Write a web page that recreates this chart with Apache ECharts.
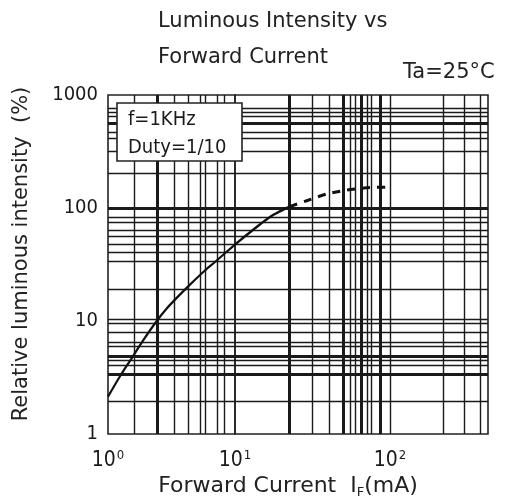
<!DOCTYPE html>
<html>
<head>
<meta charset="utf-8">
<script src="https://cdn.jsdelivr.net/npm/echarts@6/dist/echarts.min.js"></script>
<style>html,body{margin:0;padding:0;background:#fff;}#c{width:506px;height:504px;}</style>
</head>
<body>
<div id="c"></div>
<script>
// ---- data ----
// solid curve, first decade (I_F in mA, relative intensity in %)
const curveCurrentA   = [1.0, 1.24, 1.54, 1.92, 2.42, 2.9, 3.49, 4.42, 5.8, 6.96, 8.73, 10];
const curveIntensityA = [2.14, 3.23, 4.7, 6.9, 10.0, 12.9, 16.1, 21.0, 28.0, 33.3, 41.6, 47.5];
// solid curve, second decade
const curveCurrentB   = [10, 11.3, 13.8, 17.7, 22.5];
const curveIntensityB = [47.5, 54.5, 68, 87, 103];
// dashed continuation
const dashCurrent   = [22.5, 29, 39.1, 52.6, 74.3, 98.5];
const dashIntensity = [103, 116, 133, 144, 152, 153];

// grid lines of the printed log paper
const vLinesA  = [1.62, 2.44, 3.35, 4.27, 5.37, 5.88, 7.26, 8.3];
const vThickA  = [2.44];
const vLinesB  = [22.4, 31.5, 40.6, 50, 55.2, 59.4, 65.7, 71.4, 76.2, 86.2, 100, 220, 300, 381];
const vThickB  = [22.4, 50, 65.7, 86.2];
const hLines   = [1.96, 3.4, 4.08, 4.45, 4.9, 5.95, 6.52, 8.0, 9.55, 10.4, 19.1, 33.5, 40.2, 48, 56.5, 63.9, 74.1, 82, 100, 203, 315, 414, 464, 562, 643, 707, 763];
const hThick   = [3.4, 4.9, 100, 562];

// tick labels
const xTickValues    = [1, 10, 100];
const xTickExponents = ['0', '1', '2'];
const yTickValues    = [1, 10, 100, 1000];
const yTickLabels    = ['1', '10', '100', '1000'];

// texts
const titleLine1 = 'Luminous Intensity vs';
const titleLine2 = 'Forward Current';
const tempLabel  = 'Ta=25°C';
const condLine1  = 'f=1KHz';
const condLine2  = 'Duty=1/10';
const yName      = 'Relative luminous intensity  (%)';

// ---- chart ----
const NARROW = '"Liberation Sans Narrow", "DejaVu Sans Condensed", "Liberation Sans", sans-serif';
const SANS = '"DejaVu Sans", "Liberation Sans", sans-serif';
const INK = '#1a1a1a';

function pairs(xs, ys) { return xs.map((x, i) => [x, ys[i]]); }
function vItems(vals, thick) {
  return vals.map(v => ({ xAxis: v, lineStyle: { width: thick.includes(v) ? 3 : 1.4, color: INK, type: 'solid' } }));
}
function hItems(vals, thick) {
  return vals.map(v => ({ yAxis: v, lineStyle: { width: thick.includes(v) ? 3 : 1.4, color: INK, type: 'solid' } }));
}
function gridMarks(vals, thick, hv) {
  return {
    silent: true, symbol: 'none', animation: false,
    label: { show: false }, emphasis: { disabled: true },
    data: hv === 'v' ? vItems(vals, thick) : hItems(vals, thick)
  };
}
function xLabel(v) {
  const i = xTickValues.findIndex(t => Math.abs(t - v) < 1e-6 * t);
  return i < 0 ? '' : '{b|10}{s|' + xTickExponents[i] + '}';
}
const xRich = {
  b: { fontSize: 21, fontFamily: NARROW, color: INK, lineHeight: 24 },
  s: { fontSize: 13, fontFamily: NARROW, color: INK, verticalAlign: 'top', lineHeight: 24, padding: [0, 0, 0, 1] }
};

const chart = echarts.init(document.getElementById('c'), null, { renderer: 'canvas' });
chart.setOption({
  backgroundColor: '#fff',
  animation: false,
  grid: [
    { left: 108, top: 95, width: 127, height: 339, show: true, borderColor: '#222', borderWidth: 1.6, outerBoundsMode: 'none' },
    { left: 235, top: 95, width: 253, height: 339, show: true, borderColor: '#222', borderWidth: 1.6, outerBoundsMode: 'none' }
  ],
  xAxis: [
    { type: 'log', gridIndex: 0, min: 1, max: 10, logBase: 10,
      axisLine: { show: false }, axisTick: { show: false }, splitLine: { show: false },
      axisLabel: { show: true, margin: 15, showMinLabel: true, showMaxLabel: true, formatter: xLabel, rich: xRich } },
    { type: 'log', gridIndex: 1, min: 10, max: 429, logBase: 10,
      axisLine: { show: false }, axisTick: { show: false }, splitLine: { show: false },
      axisLabel: { show: true, margin: 15, showMinLabel: false, showMaxLabel: false,
        formatter: v => (Math.abs(v - 100) < 1e-4 ? xLabel(v) : ''), rich: xRich } }
  ],
  yAxis: [
    { type: 'log', gridIndex: 0, min: 1, max: 1000, logBase: 10,
      axisLine: { show: false }, axisTick: { show: false }, splitLine: { show: false },
      axisLabel: { margin: 10, showMinLabel: true, showMaxLabel: true, fontSize: 20, fontFamily: NARROW, color: INK,
        formatter: v => { const i = yTickValues.findIndex(t => Math.abs(t - v) < 1e-6 * t); return i < 0 ? '' : yTickLabels[i]; } } },
    { type: 'log', gridIndex: 1, min: 1, max: 1000, logBase: 10,
      axisLine: { show: false }, axisTick: { show: false }, splitLine: { show: false }, axisLabel: { show: false } }
  ],
  series: [
    { type: 'line', xAxisIndex: 0, yAxisIndex: 0, data: [], z: 1, markLine: gridMarks(vLinesA, vThickA, 'v') },
    { type: 'line', xAxisIndex: 0, yAxisIndex: 0, data: [], z: 1, markLine: gridMarks(hLines, hThick, 'h') },
    { type: 'line', xAxisIndex: 1, yAxisIndex: 1, data: [], z: 1, markLine: gridMarks(vLinesB, vThickB, 'v') },
    { type: 'line', xAxisIndex: 1, yAxisIndex: 1, data: [], z: 1, markLine: gridMarks(hLines, hThick, 'h') },
    { type: 'line', xAxisIndex: 0, yAxisIndex: 0, z: 10, data: pairs(curveCurrentA, curveIntensityA),
      smooth: 0.25, symbol: 'none', silent: true, lineStyle: { color: '#111', width: 2.2 } },
    { type: 'line', xAxisIndex: 1, yAxisIndex: 1, z: 10, data: pairs(curveCurrentB, curveIntensityB),
      smooth: 0.25, symbol: 'none', silent: true, lineStyle: { color: '#111', width: 2.4 } },
    { type: 'line', xAxisIndex: 1, yAxisIndex: 1, z: 10, data: pairs(dashCurrent, dashIntensity),
      smooth: 0.25, symbol: 'none', silent: true, lineStyle: { color: '#111', width: 3, type: [8, 7] } }
  ],
  graphic: [
    { type: 'text', z: 100, x: 158, y: 22, style: { text: titleLine1, font: '21px ' + SANS, fill: '#222', verticalAlign: 'middle', align: 'left' } },
    { type: 'text', z: 100, x: 158, y: 58, style: { text: titleLine2, font: '21px ' + SANS, fill: '#222', verticalAlign: 'middle', align: 'left' } },
    { type: 'text', z: 100, x: 403, y: 73, style: { text: tempLabel, font: '21px ' + SANS, fill: '#222', verticalAlign: 'middle', align: 'left' } },
    { type: 'rect', z: 100, shape: { x: 117, y: 103, width: 125, height: 58 }, style: { fill: '#fff', stroke: '#222', lineWidth: 1.6 } },
    { type: 'text', z: 101, x: 128, y: 120, style: { text: condLine1, font: '20px ' + NARROW, fill: INK, verticalAlign: 'middle', align: 'left' } },
    { type: 'text', z: 101, x: 128, y: 148, style: { text: condLine2, font: '20px ' + NARROW, fill: INK, verticalAlign: 'middle', align: 'left' } },
    { type: 'text', z: 100, x: 22, y: 254, rotation: Math.PI / 2,
      style: { text: yName, font: '21px ' + SANS, fill: '#222', verticalAlign: 'middle', align: 'center' } },
    { type: 'text', z: 100, x: 288, y: 486,
      style: { text: '{n|Forward Current  I}{u|F}{n|(mA)}', verticalAlign: 'middle', align: 'center',
        rich: { n: { font: '22px ' + SANS, fill: '#222', lineHeight: 26 },
                u: { font: '13px ' + SANS, fill: '#222', verticalAlign: 'bottom', lineHeight: 26 } } } }
  ]
});
</script>
</body>
</html>
